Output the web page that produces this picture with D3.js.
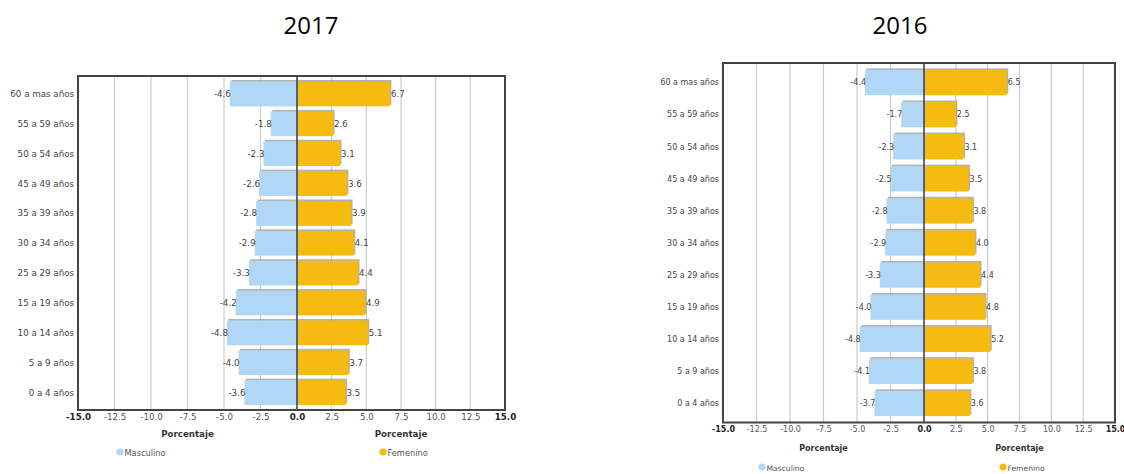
<!DOCTYPE html>
<html>
<head>
<meta charset="utf-8">
<script src="https://cdn.jsdelivr.net/npm/d3@7"></script>
<style>
  html, body { margin: 0; padding: 0; background: #fff; }
  svg { display: block; }
</style>
</head>
<body>
<svg id="chart" width="1124" height="474"></svg>
<script>
// Age groups, top to bottom
const ageGroups = [
  "60 a mas años", "55 a 59 años", "50 a 54 años", "45 a 49 años",
  "35 a 39 años", "30 a 34 años", "25 a 29 años", "15 a 19 años",
  "10 a 14 años", "5 a 9 años", "0 a 4 años"
];

// Percentage of population by sex (men shown as negative values)
const masculino2017 = [-4.6, -1.8, -2.3, -2.6, -2.8, -2.9, -3.3, -4.2, -4.8, -4.0, -3.6];
const femenino2017  = [ 6.7,  2.6,  3.1,  3.6,  3.9,  4.1,  4.4,  4.9,  5.1,  3.7,  3.5];
const masculino2016 = [-4.4, -1.7, -2.3, -2.5, -2.8, -2.9, -3.3, -4.0, -4.8, -4.1, -3.7];
const femenino2016  = [ 6.5,  2.5,  3.1,  3.5,  3.8,  4.0,  4.4,  4.8,  5.2,  3.8,  3.6];

// Axis ticks for each half of the pyramid
const leftTicks  = [-15, -12.5, -10, -7.5, -5, -2.5, 0];
const rightTicks = [0, 2.5, 5, 7.5, 10, 12.5, 15];

const seriesNames = ["Masculino", "Femenino"];
const axisTitle = "Porcentaje";

const BLUE = "#b0d7f6";
const YELLOW = "#f5bb10";
const FONT = "'DejaVu Sans', Verdana, sans-serif";

const svg = d3.select("#chart");

function drawPyramid(cfg) {
  const g = svg.append("g");
  const fs = cfg.fontSize;

  // Title
  g.append("text")
    .attr("x", cfg.titleX).attr("y", 34)
    .attr("text-anchor", "middle")
    .attr("font-family", "'Open Sans', 'Liberation Sans', sans-serif")
    .attr("font-size", 24)
    .attr("fill", "#000")
    .text(cfg.title);

  const xL = d3.scaleLinear().domain([-15, 0]).range([cfg.left, cfg.zero]);
  const xR = d3.scaleLinear().domain([0, 15]).range([cfg.zero, cfg.right]);
  const y = d3.scaleBand().domain(ageGroups)
    .range([cfg.top + cfg.padTop, cfg.bottom - cfg.padBottom])
    .paddingInner(cfg.barPad).paddingOuter(cfg.barPad / 2);

  // Plot background
  g.append("rect")
    .attr("x", cfg.left).attr("y", cfg.top)
    .attr("width", cfg.right - cfg.left).attr("height", cfg.bottom - cfg.top)
    .attr("fill", "#fff");

  // Vertical grid lines
  const grid = g.append("g");
  leftTicks.filter(t => t > -15 && t < 0).forEach(t => {
    grid.append("line").attr("x1", xL(t)).attr("x2", xL(t))
      .attr("y1", cfg.top).attr("y2", cfg.bottom)
      .attr("stroke", "#cccccc").attr("stroke-width", 1.2);
  });
  rightTicks.filter(t => t > 0 && t < 15).forEach(t => {
    grid.append("line").attr("x1", xR(t)).attr("x2", xR(t))
      .attr("y1", cfg.top).attr("y2", cfg.bottom)
      .attr("stroke", "#cccccc").attr("stroke-width", 1.2);
  });

  const rows = ageGroups.map((k, i) => ({ k, m: cfg.men[i], f: cfg.women[i] }));
  const bh = y.bandwidth();

  // Bar shadows
  const shadows = g.append("g").attr("fill", "#9a9a9a").attr("opacity", 0.75);
  shadows.selectAll(".sm").data(rows).join("rect")
    .attr("x", d => xL(d.m) + 1.5).attr("y", d => y(d.k) - 1.5)
    .attr("width", d => xL(0) - xL(d.m)).attr("height", bh);
  shadows.selectAll(".sf").data(rows).join("rect")
    .attr("x", d => xR(0) + 1.5).attr("y", d => y(d.k) - 1.5)
    .attr("width", d => xR(d.f) - xR(0)).attr("height", bh);

  // Bars
  g.append("g").selectAll("rect").data(rows).join("rect")
    .attr("x", d => xL(d.m)).attr("y", d => y(d.k))
    .attr("width", d => xL(0) - xL(d.m)).attr("height", bh)
    .attr("fill", BLUE);
  g.append("g").selectAll("rect").data(rows).join("rect")
    .attr("x", d => xR(0)).attr("y", d => y(d.k))
    .attr("width", d => xR(d.f) - xR(0)).attr("height", bh)
    .attr("fill", YELLOW);

  // Value labels
  g.append("g").selectAll("text").data(rows).join("text")
    .attr("x", d => xL(d.m) + 1).attr("y", d => y(d.k) + bh / 2)
    .attr("dy", "0.35em").attr("text-anchor", "end")
    .attr("font-family", FONT).attr("font-size", fs).attr("fill", "#444")
    .text(d => d.m.toFixed(1));
  g.append("g").selectAll("text").data(rows).join("text")
    .attr("x", d => xR(d.f) + 1).attr("y", d => y(d.k) + bh / 2)
    .attr("dy", "0.35em").attr("text-anchor", "start")
    .attr("font-family", FONT).attr("font-size", fs).attr("fill", "#444")
    .text(d => d.f.toFixed(1));

  // Category labels
  g.append("g").selectAll("text").data(ageGroups).join("text")
    .attr("x", cfg.left - 4).attr("y", d => y(d) + bh / 2)
    .attr("dy", "0.35em").attr("text-anchor", "end")
    .attr("font-family", FONT).attr("font-size", fs).attr("fill", "#444")
    .text(d => d);

  // Zero line and frame
  g.append("line").attr("x1", cfg.zero).attr("x2", cfg.zero)
    .attr("y1", cfg.top).attr("y2", cfg.bottom)
    .attr("stroke", "#444").attr("stroke-width", 1.6);
  g.append("rect")
    .attr("x", cfg.left).attr("y", cfg.top)
    .attr("width", cfg.right - cfg.left).attr("height", cfg.bottom - cfg.top)
    .attr("fill", "none").attr("stroke", "#444").attr("stroke-width", 2);

  // Axis tick labels
  const bold = t => Math.abs(t) === 15 || t === 0;
  const tickY = cfg.bottom + 10;
  const axisL = d3.axisBottom(xL).tickValues(leftTicks).tickSize(0).tickFormat(d3.format(".1f"));
  const axisR = d3.axisBottom(xR).tickValues(rightTicks.filter(t => t > 0)).tickSize(0).tickFormat(d3.format(".1f"));
  [axisL, axisR].forEach(ax => {
    const a = g.append("g").attr("transform", `translate(0,${tickY - 6})`).call(ax);
    a.select(".domain").remove();
    a.selectAll("text")
      .attr("font-family", FONT).attr("font-size", fs)
      .attr("fill", d => bold(d) ? "#222" : "#555")
      .attr("font-weight", d => bold(d) ? "bold" : "normal")
      .attr("y", 0).attr("dy", "0.71em")
      .text(d => d.toFixed(1).replace("-", "-"));
  });

  // Axis titles
  [[cfg.left, cfg.zero], [cfg.zero, cfg.right]].forEach(([a, b]) => {
    g.append("text")
      .attr("x", (a + b) / 2).attr("y", cfg.axisTitleY)
      .attr("text-anchor", "middle")
      .attr("font-family", FONT).attr("font-size", fs).attr("font-weight", "bold")
      .attr("fill", "#333")
      .text(axisTitle);
  });

  // Legend
  const legend = [
    { name: seriesNames[0], color: BLUE, x: cfg.legendX[0] },
    { name: seriesNames[1], color: YELLOW, x: cfg.legendX[1] }
  ];
  legend.forEach(l => {
    g.append("circle").attr("cx", l.x).attr("cy", cfg.legendY - 1).attr("r", 3.6).attr("fill", l.color);
    g.append("text").attr("x", l.x + 4.5).attr("y", cfg.legendY)
      .attr("dy", "0.35em")
      .attr("font-family", FONT).attr("font-size", fs * 0.95).attr("fill", "#555")
      .text(l.name);
  });
}

drawPyramid({
  title: "2017", titleX: 311,
  men: masculino2017, women: femenino2017,
  left: 78, zero: 297, right: 505, top: 76, bottom: 410,
  padTop: 3, padBottom: 2.5, barPad: 0.17,
  fontSize: 8.7, axisTitleY: 437, legendX: [120, 383], legendY: 453
});

drawPyramid({
  title: "2016", titleX: 900,
  men: masculino2016, women: femenino2016,
  left: 723, zero: 924, right: 1115, top: 63, bottom: 422.5,
  padTop: 3.5, padBottom: 3, barPad: 0.21,
  fontSize: 8, axisTitleY: 451, legendX: [762, 1003], legendY: 468
});
</script>
</body>
</html>
